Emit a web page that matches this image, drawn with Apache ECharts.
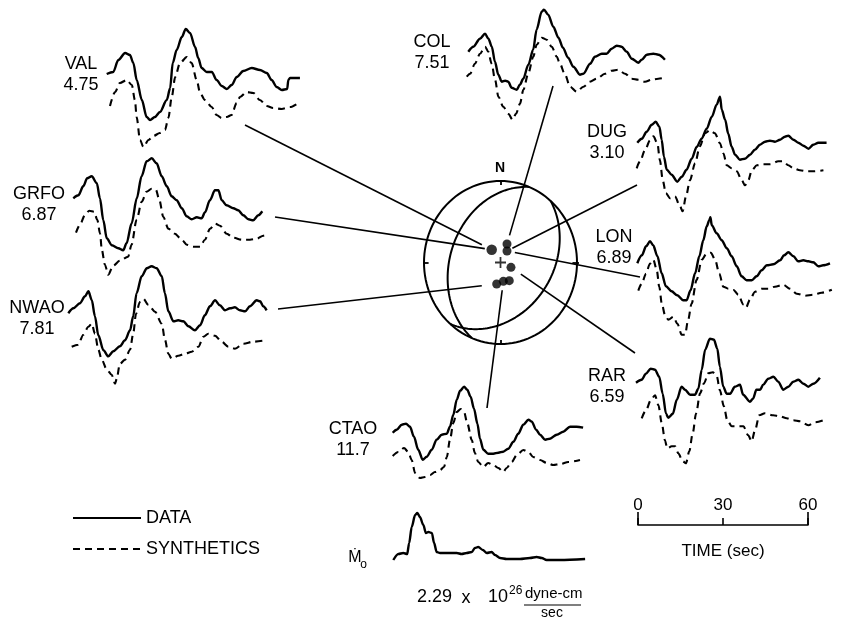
<!DOCTYPE html>
<html>
<head>
<meta charset="utf-8">
<script src="https://cdn.jsdelivr.net/npm/echarts@6/dist/echarts.min.js"></script>
<style>
html, body { margin: 0; padding: 0; background: #fff; }
#main { width: 843px; height: 619px; }
</style>
</head>
<body>
<div id="main"></div>
<script>
// ---- data: [time (s), amplitude] ----
var SCALE_TICKS = [0, 30, 60];

var VAL_DATA = [[0,0],[2.3,2],[4.1,14],[6.5,21],[8.2,19],[9.4,11],[10.6,-6],[12.4,-26],[14.1,-43],[15.3,-46],[17,-43],[18.8,-38],[21.2,-26],[22.4,-14],[23.3,11],[24.7,24],[26.5,37],[27.9,45],[29.4,41],[31.2,27],[32.3,16],[33.5,6],[35.3,2],[37.1,2],[38.8,-6],[40.6,-12],[42.4,-15],[44.1,-11],[45.9,-3],[48.2,3],[51.2,6],[54.1,4],[56.5,1],[58.2,-6],[60,-13],[61.8,-16],[63.7,-15],[64.1,-6],[64.7,-4],[68.2,-4]];
var VAL_SYN = [[0,0],[1.8,14],[3.5,23],[5.9,26],[7.7,21],[8.8,6],[9.4,-11],[10.6,-34],[11.8,-41],[13.6,-34],[15.3,-30],[17.6,-27],[19.4,-24],[20.6,-12],[21.8,9],[23,29],[24.7,43],[27.1,49],[28.8,43],[30.6,26],[31.8,13],[33.5,6],[35.9,-1],[37.6,-9],[39.4,-12],[41.2,-11],[42.9,-9],[44.7,3],[45.9,9],[48.2,14],[50.6,13],[52.9,6],[55.3,0],[57.6,-2],[60.6,-3],[63.5,-1],[66.5,3]];

var GRFO_DATA = [[0,0],[1.8,3],[3.5,12],[4.9,20],[6.5,22],[8.3,15],[9.4,0],[10.6,-22],[11.8,-40],[13.6,-47],[15.9,-50],[17.6,-52],[18.8,-45],[20.6,-25],[22.4,0],[24.1,22],[25.9,37],[27.7,40],[29.4,35],[31.2,22],[33,12],[34.7,2],[36.5,-2],[38.3,-10],[40,-18],[41.8,-21],[43.6,-19],[45.3,-20],[46.5,-14],[48.2,-2],[50,8],[51.2,8],[52.4,-2],[54.1,-7],[56.5,-10],[58.2,-12],[60,-17],[61.8,-21],[63.5,-22],[65.3,-17],[66.7,-13]];
var GRFO_SYN = [[0,0],[1.4,8],[3.2,18],[4.7,22],[6.4,21],[7.5,13],[8.5,-1],[9.1,-17],[10.2,-32],[11.4,-42],[13.1,-33],[15.5,-28],[18.4,-24],[19.6,-12],[21.4,13],[23.2,31],[24.9,41],[26.7,44],[28.2,43],[29.4,33],[30.8,16],[32.6,4],[34.9,-1],[37.3,-7],[39.1,-12],[41.4,-14],[43.8,-14],[45.5,-7],[47.3,4],[49.1,9],[50.8,7],[53.2,-1],[55.5,-5],[58.5,-7],[61.4,-7],[63.8,-6],[66.1,-3],[67.9,-2]];

var NWAO_DATA = [[0,0],[1.8,5],[4.1,10],[5.9,17],[7.1,22],[8.3,13],[9.4,-3],[10.6,-22],[12.4,-37],[14.1,-43],[15.9,-38],[18.2,-33],[20,-27],[21.8,-17],[22.9,-3],[24.1,20],[25.9,37],[27.7,45],[29.4,47],[31.2,45],[33,37],[34.1,20],[35.3,2],[37.1,-8],[38.8,-7],[40.6,-8],[42.4,-13],[44.7,-17],[46.5,-12],[48.2,-2],[50,7],[51.8,13],[53.5,8],[55.3,3],[57.1,5],[58.8,6],[60.6,3],[62.4,2],[64.1,7],[66.5,13],[67.7,12],[68.8,7],[70,3]];
var NWAO_SYN = [[0,0],[2.3,2],[4.1,12],[5.9,20],[7.1,23],[8.2,13],[9.4,-3],[10.6,-13],[12.4,-23],[14.1,-28],[15.3,-37],[15.9,-32],[17,-17],[18.8,-13],[20.6,-3],[21.7,13],[22.7,33],[24.1,45],[25.3,48],[27,42],[29.4,35],[31.8,23],[32.9,7],[34.1,-7],[35.3,-12],[37.6,-9],[40,-7],[42.4,-5],[44.7,0],[46.5,10],[48.2,13],[50.6,11],[52.9,5],[55.3,0],[57.6,-2],[60.6,3],[64.1,5],[67.6,6]];

var COL_DATA = [[0,0],[1.8,5],[4.1,13],[5.9,18],[7.1,13],[8.3,5],[9.4,-10],[10.6,-23],[11.8,-30],[13,-29],[14.1,-30],[15.3,-36],[17.1,-38],[18.2,-33],[19.4,-27],[21.2,-13],[22.9,2],[24.1,22],[25.9,40],[26.7,42],[28.2,37],[30,25],[31.8,14],[33.4,4],[35.2,-6],[37.1,-15],[39.4,-23],[40.6,-22],[43,-12],[44.7,-5],[47.1,-2],[48.8,-2],[50.6,3],[52.4,6],[54.1,5],[55.9,0],[57.7,-7],[60,-11],[61.2,-8],[63,-3],[65.3,-2],[67.1,-3],[69.4,-8]];
var COL_SYN = [[0,0],[1.2,3],[2.9,13],[4.7,23],[6.5,30],[7.6,25],[8.8,13],[10,-3],[11.2,-20],[12.9,-30],[14.7,-37],[16.2,-43],[17.4,-37],[18.8,-27],[20,-13],[21.7,3],[23.5,20],[24.7,32],[26.5,39],[28.2,37],[30,30],[31.8,20],[32.9,13],[34.7,2],[36.5,-10],[38.8,-15],[41.2,-10],[43.5,-5],[45.9,-2],[48.8,3],[51.2,6],[53.5,7],[55.9,3],[58.2,-2],[60.6,-3],[62.9,-5],[65.3,-3],[67.6,-2],[70,-1]];

var DUG_DATA = [[0,0],[1.6,4],[3.3,11],[5.1,18],[6.5,21],[7.8,16],[8.6,3],[9.4,-14],[10.4,-27],[12.1,-32],[14.1,-39],[15.7,-34],[17.4,-27],[19.2,-16],[21,-4],[22.7,4],[24.5,14],[26.3,26],[28,38],[29.2,46],[29.8,33],[31,23],[32.1,9],[33.3,-4],[34.5,-12],[36.2,-17],[38,-16],[39.8,-12],[41.5,-7],[43.3,-2],[45.1,1],[46.8,2],[48.6,1],[50.4,3],[52.1,6],[53.3,7],[55.1,3],[56.8,0],[58.6,-3],[60.4,-6],[62.1,-2],[63.9,0],[66.8,0]];
var DUG_SYN = [[0,0],[1.2,7],[2.9,18],[4.7,28],[5.9,32],[7.3,25],[8.2,8],[9.2,-12],[10.3,-25],[11.8,-30],[13.5,-28],[15.3,-38],[16.2,-43],[17.4,-28],[18.8,-12],[20.6,5],[22.3,22],[24.1,35],[25.9,38],[27.6,35],[29.4,25],[30.6,15],[31.8,3],[33.5,0],[35.3,-3],[37.1,-12],[38.2,-17],[39.4,-12],[40.6,-2],[42.4,3],[44.7,4],[47.1,4],[50,7],[51.8,7],[53.5,3],[55.3,0],[57.6,-2],[60,-3],[62.4,-3],[65.9,-2]];

var LON_DATA = [[0,0],[1.6,8],[3.1,17],[4.5,22],[5.6,18],[7.1,7],[8.6,-10],[10.1,-23],[12.1,-28],[14.1,-32],[16.2,-37],[17.4,-37],[18.8,-27],[20.4,-10],[21.9,7],[23.3,23],[24.5,37],[25.4,43],[25.8,46],[26.3,38],[28,30],[29.8,23],[31.6,15],[33.3,7],[35.1,-3],[36.8,-13],[38.6,-17],[40.4,-17],[42.1,-13],[43.9,-7],[45.7,-2],[48,-1],[50.4,3],[51.8,8],[53.3,11],[55.1,7],[56.8,2],[58.6,3],[60.4,2],[62.1,1],[63.9,-3],[65.6,-2],[68,0]];
var LON_SYN = [[0,0],[1.2,7],[2.7,17],[4.1,27],[5.3,31],[6.5,21],[7.4,4],[8.3,-13],[9.4,-24],[10.6,-29],[12.4,-26],[13.8,-33],[15.3,-44],[16.5,-44],[17.6,-29],[18.8,-13],[20.6,11],[22.4,31],[24.1,37],[25.6,38],[27.1,31],[28.6,17],[30,4],[31.8,2],[33.5,1],[35.3,-4],[37.1,-14],[38,-17],[39.4,-9],[41.2,-1],[43.6,2],[45.9,2],[48.2,4],[51.2,6],[53.5,2],[55.9,-3],[58.8,-5],[61.8,-4],[64.7,-2],[68.3,1]];

var RAR_DATA = [[0,0],[2,3],[3.5,9],[5.2,14],[6.7,13],[8.2,6],[9.4,-11],[10.6,-31],[11.4,-35],[13,-31],[14.4,-17],[16.1,-4],[17.3,-7],[19.1,-12],[20.8,-12],[22,-6],[23.2,13],[24.4,33],[26.1,44],[27.5,43],[28.7,34],[29.6,16],[30.8,-4],[32,-11],[33.2,-11],[34.9,-4],[36.7,-2],[37.8,-12],[40.2,-19],[41.3,-16],[42.5,-7],[43.8,-7],[44.9,-2],[46.7,4],[48.5,6],[50.2,1],[52,-7],[53.8,-4],[55.5,1],[57.3,3],[59.1,-1],[60.8,-4],[62.6,-1],[64.9,5]];
var RAR_SYN = [[0,0],[1.5,8],[3.2,18],[4.7,23],[5.9,13],[7.1,-5],[8.2,-22],[9,-30],[10.6,-28],[11.8,-28],[12.9,-35],[14.5,-43],[15.6,-45],[16.8,-33],[18,-15],[19.2,5],[20.6,25],[22,35],[23.5,45],[25.1,46],[26.5,42],[27.6,28],[29,12],[30.2,-2],[31.8,-8],[34.1,-8],[35.9,-8],[37.6,-17],[38.8,-23],[40,-12],[41.5,3],[43.5,5],[46.4,3],[48.8,2],[51.2,0],[53.5,-2],[55.9,-3],[58.8,-7],[61.2,-4],[64.1,-2]];

var CTAO_DATA = [[0,0],[1.4,3],[3.2,8],[4.7,9],[6.1,6],[7.5,-4],[9,-17],[10.6,-27],[12,-24],[13.8,-17],[15.5,-7],[17.3,-2],[19.1,-1],[20.2,6],[21.4,18],[22.6,33],[23.8,42],[25.2,46],[26.3,43],[27.5,36],[28.7,24],[29.9,9],[30.8,-6],[32,-17],[33.7,-21],[35.5,-21],[37.3,-20],[39,-19],[40.8,-16],[42.6,-9],[44.3,-1],[46.1,8],[47.9,13],[49.1,11],[50.6,3],[52,-2],[53.8,-7],[55.5,-6],[57.9,-2],[60.2,1],[62.6,6],[64.9,6],[67.2,5]];
var CTAO_SYN = [[0,0],[2,4],[4,8],[5.5,4],[6.7,-4],[7.9,-17],[9.6,-22],[11.4,-21],[13.2,-19],[14.9,-16],[16.7,-14],[18.1,-11],[19.1,-1],[20.2,16],[21.4,33],[22.6,44],[24,47],[25.2,44],[26.3,33],[27.9,16],[29,3],[30.2,-6],[32,-11],[33.7,-7],[35.5,-9],[37.3,-12],[39,-16],[40.2,-12],[42,-6],[43.8,1],[46.1,6],[47.9,4],[49.6,-1],[52,-4],[54.4,-7],[56.7,-9],[59.1,-8],[62,-6],[66.1,-4]];

// source time function (moment rate)
var MO_RATE = [[0,0],[1.8,6],[3.5,7],[4.9,6],[5.6,17],[6.5,33],[7.7,45],[8.5,47],[9.4,43],[10.6,35],[11.5,27],[12.4,28],[13.6,27],[14.4,17],[15.3,8],[16.5,7],[18.8,7],[22.4,7],[24.1,6],[25.9,7],[27.7,8],[28.8,12],[30,13],[31.6,10],[33,7],[34.7,8],[35.9,5],[37.7,2],[40,1],[44.7,1],[48.2,2],[50.6,3],[52.4,2],[54.1,0],[58.8,0],[67.7,1]];

// focal mechanism: nodal planes and station points (unit focal sphere)
var NODAL_STRIKE = [202, 41];
var NODAL_DIP = [35, 35];
var POLARITY_PTS = [[-0.115,0.157],[0.085,0.227],[0.085,0.141],[0.137,-0.059],[-0.05,-0.264],[0.037,-0.231],[0.115,-0.223]];

var STATIONS = [
  { name: 'VAL',  amp: '4.75', data: VAL_DATA,  syn: VAL_SYN },
  { name: 'GRFO', amp: '6.87', data: GRFO_DATA, syn: GRFO_SYN },
  { name: 'NWAO', amp: '7.81', data: NWAO_DATA, syn: NWAO_SYN },
  { name: 'COL',  amp: '7.51', data: COL_DATA,  syn: COL_SYN },
  { name: 'DUG',  amp: '3.10', data: DUG_DATA,  syn: DUG_SYN },
  { name: 'LON',  amp: '6.89', data: LON_DATA,  syn: LON_SYN },
  { name: 'RAR',  amp: '6.59', data: RAR_DATA,  syn: RAR_SYN },
  { name: 'CTAO', amp: '11.7', data: CTAO_DATA, syn: CTAO_SYN }
];

// ---- layout (pixels) ----
var PX_PER_SEC = 170 / 60;
var FONT = '"Liberation Sans", Arial, Helvetica, sans-serif';
var LAYOUT = {
  VAL:  { d: [106.7, 74],    s: [110, 106],     label: [81, 64.5], to: [245, 125], dot: 0, gap: 11 },
  GRFO: { d: [73.3, 198.3],  s: [76, 232.7],    label: [39, 194],  to: [275, 217], dot: 0, gap: 7 },
  NWAO: { d: [68.3, 313.3],  s: [71.7, 346.7],  label: [37, 308],  to: [278, 309], dot: 4, gap: 15 },
  COL:  { d: [468.3, 51.7],  s: [466.7, 76.7],  label: [432, 42.5],to: [553, 86],  dot: 1, gap: 9 },
  DUG:  { d: [637.3, 142.7], s: [636.7, 168.3], label: [607, 132.5],to: [637, 185], dot: 2, gap: 6 },
  LON:  { d: [637.3, 263.3], s: [638.3, 290.7], label: [614, 237], to: [640, 277], dot: 2, gap: 8 },
  RAR:  { d: [636, 382.7],   s: [641.7, 418.3], label: [607, 376], to: [635, 353], dot: 3, gap: 12 },
  CTAO: { d: [392.7, 432.7], s: [392.7, 456],   label: [353, 429], to: [487, 408], dot: 5, gap: 9 }
};
var MO_ORIGIN = [393.3, 560];

var chart = echarts.init(document.getElementById('main'));
var grids = [], xAxes = [], yAxes = [], series = [];

function addTrace(data, origin, name, dashed, yr) {
  yr = yr || [-60, 50];
  var idx = grids.length;
  var tEnd = data[data.length - 1][0];
  grids.push({ left: origin[0], top: origin[1] - yr[1], width: tEnd * PX_PER_SEC, height: yr[1] - yr[0], outerBoundsMode: 'none' });
  xAxes.push({ type: 'value', gridIndex: idx, min: 0, max: tEnd, show: false });
  yAxes.push({ type: 'value', gridIndex: idx, min: yr[0], max: yr[1], show: false });
  series.push({
    name: name, type: 'line', xAxisIndex: idx, yAxisIndex: idx, data: data,
    symbol: 'none', showSymbol: false, smooth: 0.3, smoothMonotone: 'x', clip: false, silent: true,
    itemStyle: { color: '#000' },
    lineStyle: { color: '#000', width: dashed ? 2.1 : 2.4, type: dashed ? [7, 5] : 'solid' }
  });
}

STATIONS.forEach(function (st) {
  var L = LAYOUT[st.name];
  addTrace(st.data, L.d, 'DATA', false);
  addTrace(st.syn, L.s, 'SYNTHETICS', true);
});
addTrace(MO_RATE, MO_ORIGIN, 'MO', false, [-10, 50]);

// focal sphere (equal-area, lower hemisphere)
var bb = grids.length;
grids.push({ left: 424, top: 181, width: 153, height: 163, outerBoundsMode: 'none' });
xAxes.push({ type: 'value', gridIndex: bb, min: -1, max: 1, show: false });
yAxes.push({ type: 'value', gridIndex: bb, min: -1, max: 1, show: false });

var circle = [];
for (var i = 0; i <= 120; i++) {
  var a = i / 120 * 2 * Math.PI;
  circle.push([Math.sin(a), Math.cos(a)]);
}
function nodalCurve(strike, dip) {
  var s = strike * Math.PI / 180, d = dip * Math.PI / 180, dd = s + Math.PI / 2;
  var pts = [];
  for (var k = 0; k <= 90; k++) {
    var t = k / 90 * Math.PI;
    var n = Math.cos(t) * Math.cos(s) + Math.sin(t) * Math.cos(dd) * Math.cos(d);
    var e = Math.cos(t) * Math.sin(s) + Math.sin(t) * Math.sin(dd) * Math.cos(d);
    var z = Math.sin(t) * Math.sin(d);
    var pl = Math.asin(Math.max(-1, Math.min(1, z)));
    var tr = Math.atan2(e, n);
    var r = Math.SQRT2 * Math.sin((Math.PI / 2 - pl) / 2);
    pts.push([r * Math.sin(tr), r * Math.cos(tr)]);
  }
  return pts;
}
var bbLine = { type: 'line', xAxisIndex: bb, yAxisIndex: bb, symbol: 'none', silent: true, clip: false, lineStyle: { color: '#000', width: 2 } };
series.push(Object.assign({}, bbLine, { data: circle }));
NODAL_STRIKE.forEach(function (s, j) {
  series.push(Object.assign({}, bbLine, { data: nodalCurve(s, NODAL_DIP[j]) }));
});
series.push({
  type: 'lines', coordinateSystem: 'cartesian2d', xAxisIndex: bb, yAxisIndex: bb, silent: true,
  lineStyle: { color: '#000', width: 1.8, opacity: 1 },
  data: [
    { coords: [[0, 0.95], [0, 1.06]] },
    { coords: [[0, -0.95], [0, -1.06]] },
    { coords: [[0.94, 0], [1.06, 0]] },
    { coords: [[-0.94, 0], [-1.06, 0]] }
  ]
});
series.push({
  type: 'scatter', xAxisIndex: bb, yAxisIndex: bb, silent: true, data: POLARITY_PTS,
  symbol: 'circle', symbolSize: function (v, p) { return p.dataIndex === 0 ? 10.5 : 9; },
  itemStyle: { color: '#000' }
});
series.push({
  type: 'scatter', xAxisIndex: bb, yAxisIndex: bb, silent: true, data: [[0, 0]],
  symbol: 'path://M4.2,0h1.6v10h-1.6z M0,4.2h10v1.6h-10z', symbolSize: 11,
  itemStyle: { color: '#000' }
});

// time scale bar
var sc = grids.length;
grids.push({ left: 638, top: 525, width: 170, height: 0, outerBoundsMode: 'none' });
xAxes.push({
  type: 'value', gridIndex: sc, position: 'top', min: SCALE_TICKS[0], max: SCALE_TICKS[2], interval: 30,
  axisLine: { show: true, lineStyle: { color: '#000', width: 1.6 } },
  axisTick: { show: true, length: 7, lineStyle: { color: '#000', width: 1.6 } },
  axisLabel: { show: true, margin: 11, color: '#000', fontSize: 17, fontFamily: FONT },
  splitLine: { show: false }
});
xAxes.push({
  type: 'value', gridIndex: sc, position: 'bottom', min: SCALE_TICKS[0], max: SCALE_TICKS[2], interval: 60,
  axisLine: { show: false },
  axisTick: { show: true, inside: true, length: 13, lineStyle: { color: '#000', width: 1.6 } },
  axisLabel: { show: false }, splitLine: { show: false }
});
yAxes.push({ type: 'value', gridIndex: sc, min: 0, max: 1, show: false });

function txt(str, x, y, size, align, weight) {
  return {
    type: 'text', silent: true,
    style: { text: str, x: x, y: y, font: (weight ? weight + ' ' : '') + size + 'px ' + FONT,
      fill: '#000', textAlign: align || 'center', align: align || 'center', textVerticalAlign: 'middle', verticalAlign: 'middle' }
  };
}

var texts = [];
STATIONS.forEach(function (st) {
  var p = LAYOUT[st.name].label;
  texts.push(txt(st.name, p[0], p[1], 18));
  texts.push(txt(st.amp, p[0], p[1] + 21, 18));
});
texts.push(txt('N', 500, 168, 14, 'center', 'bold'));
texts.push(txt('\u1E40', 355, 558, 16));
texts.push(txt('o', 363.5, 565, 12));
texts.push(txt('2.29', 417, 597, 18, 'left'));
texts.push(txt('x', 466, 598, 18));
texts.push(txt('10', 508, 597, 18, 'right'));
texts.push(txt('26', 509, 591, 12, 'left'));
texts.push(txt('dyne-cm', 525, 594, 15, 'left'));
texts.push({ type: 'line', silent: true, shape: { x1: 524, y1: 605, x2: 581, y2: 605 }, style: { stroke: '#000', lineWidth: 1.2 } });
texts.push(txt('sec', 552, 613, 14));
texts.push(txt('TIME (sec)', 723, 551, 17));

chart.setOption({
  animation: false,
  backgroundColor: '#fff',
  legend: {
    data: ['DATA', 'SYNTHETICS'], orient: 'vertical', left: 72, top: 509, padding: 0,
    itemWidth: 68, itemHeight: 14, itemGap: 13, selectedMode: false,
    itemStyle: { opacity: 0 },
    textStyle: { fontSize: 18, fontFamily: FONT, color: '#000', lineHeight: 18 }
  },
  grid: grids, xAxis: xAxes, yAxis: yAxes, series: series
});

// leader lines from each seismogram to its point on the focal sphere
var leaders = [];
STATIONS.forEach(function (st) {
  var L = LAYOUT[st.name];
  var p = chart.convertToPixel({ gridIndex: bb }, POLARITY_PTS[L.dot]);
  var dx = L.to[0] - p[0], dy = L.to[1] - p[1], len = Math.sqrt(dx * dx + dy * dy);
  leaders.push({
    type: 'line', silent: true,
    shape: { x1: L.to[0], y1: L.to[1], x2: p[0] + dx / len * L.gap, y2: p[1] + dy / len * L.gap },
    style: { stroke: '#000', lineWidth: 1.6 }
  });
});
chart.setOption({ graphic: texts.concat(leaders) });
</script>
</body>
</html>
